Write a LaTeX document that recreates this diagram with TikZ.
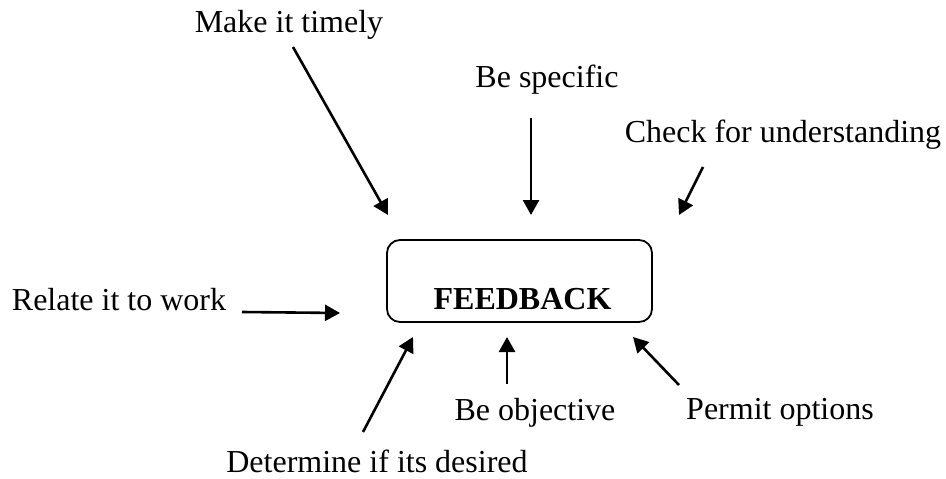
\documentclass[tikz,border=0pt]{standalone}
\usepackage{fontspec}
\setmainfont{Liberation Serif}
\usetikzlibrary{arrows.meta}
\begin{document}
\begin{tikzpicture}[x=1pt,y=-1pt,
  lbl/.style={inner sep=0pt,font=\fontsize{32}{38}\selectfont},
  hub/.style={draw,line width=1.8pt,rounded corners=13pt,minimum width=265pt,minimum height=82pt,inner sep=0pt},
  pointer/.style={line width=2.6pt,-{Triangle[length=15pt,width=16pt]}}]
\useasboundingbox (0,0) rectangle (946,479);
% central box with its title sitting low
\node[hub] (fb) at (519.5,281) {};
\node[lbl,font=\fontsize{32}{38}\selectfont\bfseries] (fbt) at (522.5,299.5) {FEEDBACK};
% surrounding labels
\node[lbl] (timely) at (289,25) {Make it timely};
\node[lbl] (spec) at (547,80) {Be specific};
\node[lbl] (check) at (783,135) {Check for understanding};
\node[lbl] (relate) at (119,300) {Relate it to work};
\node[lbl] (determ) at (377,461) {Determine if its desired};
\node[lbl] (object) at (535,413) {Be objective};
\node[lbl] (permit) at (780,412) {Permit options};
% arrow end points
\coordinate (t0) at (293,47);  \coordinate (t1) at (388,215);
\coordinate (s0) at (531,118); \coordinate (s1) at (531,215);
\coordinate (c0) at (703,167); \coordinate (c1) at (679,215);
\coordinate (r0) at (242,312); \coordinate (r1) at (340,313);
\coordinate (d0) at (363,432); \coordinate (d1) at (413,337);
\coordinate (o0) at (507,384); \coordinate (o1) at (507,337);
\coordinate (p0) at (679,385); \coordinate (p1) at (633,337);
\draw[pointer] (t0) -- (t1);
\draw[pointer] (s0) -- (s1);
\draw[pointer] (c0) -- (c1);
\draw[pointer] (r0) -- (r1);
\draw[pointer] (d0) -- (d1);
\draw[pointer] (o0) -- (o1);
\draw[pointer] (p0) -- (p1);
\end{tikzpicture}
\end{document}
